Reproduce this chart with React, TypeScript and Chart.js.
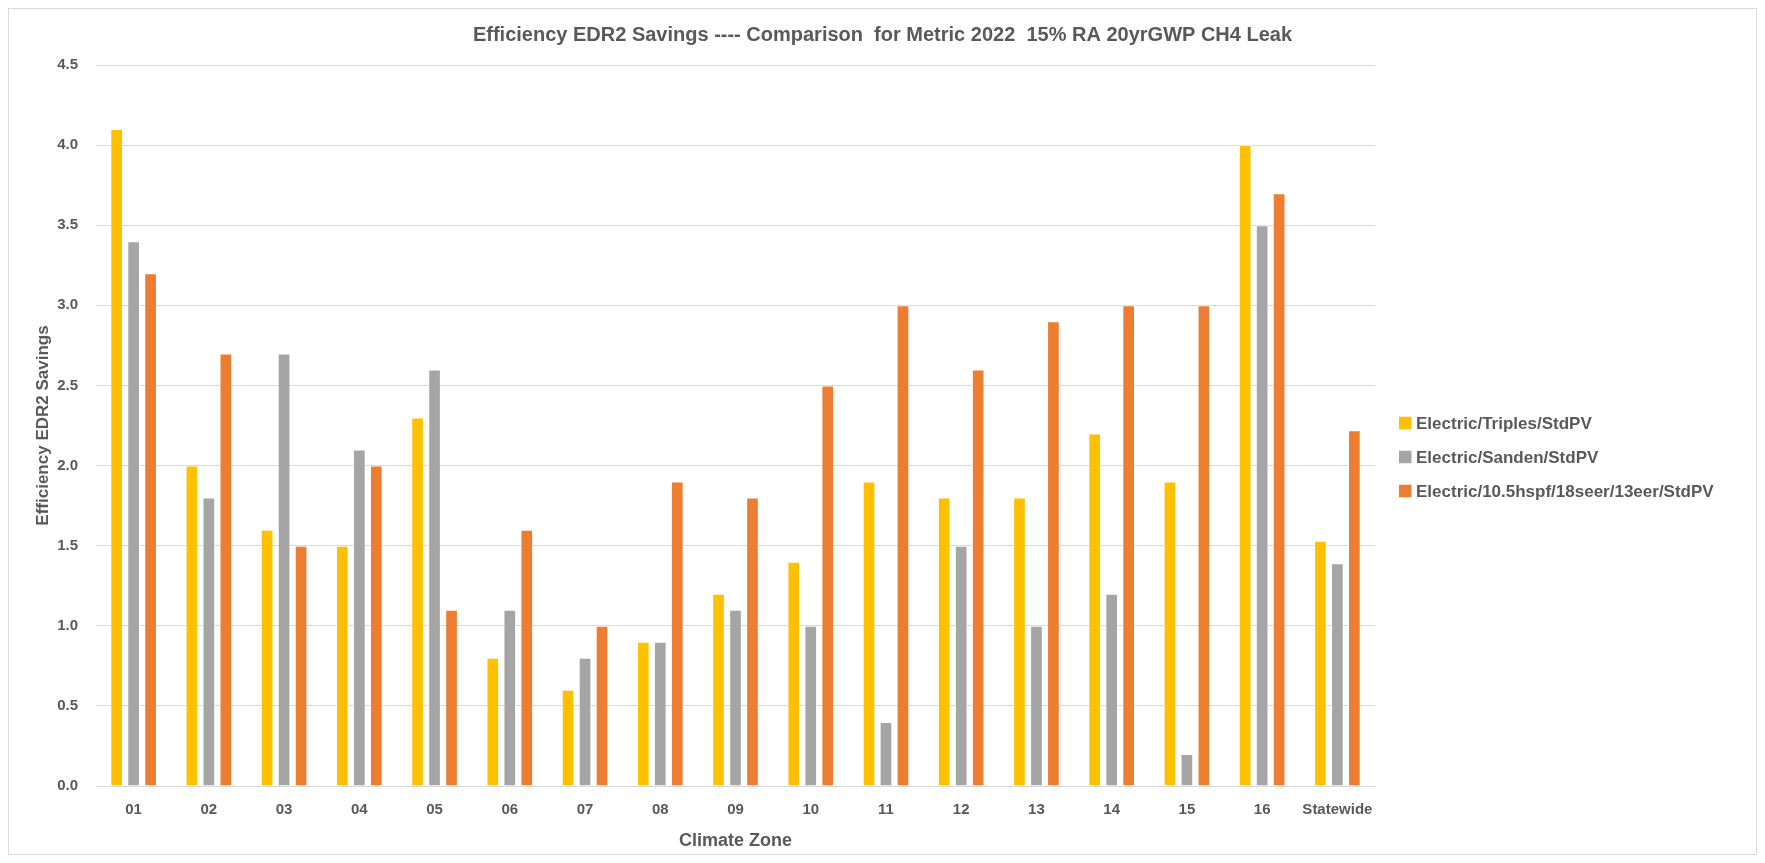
import React, { useEffect, useRef } from "react";
import { Chart, registerables } from "chart.js";

Chart.register(...registerables);

const categories = ["01", "02", "03", "04", "05", "06", "07", "08", "09", "10", "11", "12", "13", "14", "15", "16", "Statewide"];
const triplesStdPV = [4.1, 2.0, 1.6, 1.5, 2.3, 0.8, 0.6, 0.9, 1.2, 1.4, 1.9, 1.8, 1.8, 2.2, 1.9, 4.0, 1.53];
const sandenStdPV = [3.4, 1.8, 2.7, 2.1, 2.6, 1.1, 0.8, 0.9, 1.1, 1.0, 0.4, 1.5, 1.0, 1.2, 0.2, 3.5, 1.39];
const hspfStdPV = [3.2, 2.7, 1.5, 2.0, 1.1, 1.6, 1.0, 1.9, 1.8, 2.5, 3.0, 2.6, 2.9, 3.0, 3.0, 3.7, 2.22];
const seriesNames = ["Electric/Triples/StdPV", "Electric/Sanden/StdPV", "Electric/10.5hspf/18seer/13eer/StdPV"];
const seriesColors = ["#FFC000", "#A5A5A5", "#ED7D31"];
const chartTitle = "Efficiency EDR2 Savings ---- Comparison  for Metric 2022  15% RA 20yrGWP CH4 Leak";
const yAxisTitle = "Efficiency EDR2 Savings";
const xAxisTitle = "Climate Zone";
const yMin = 0;
const yMax = 4.5;
const yStep = 0.5;

const TEXT = "#595959";
const GRID = "#D9D9D9";
const FONT = "'Liberation Sans', Arial, sans-serif";

const customLegend = {
  id: "customLegend",
  afterDraw(chart: any) {
    const { ctx, chartArea } = chart;
    const x0 = chartArea.right + 24;
    const midY = (chartArea.top + chartArea.bottom) / 2 + 31.5;
    const rowGap = 34;
    const box = 12.5;
    ctx.save();
    ctx.font = `bold 17px ${FONT}`;
    ctx.textBaseline = "middle";
    ctx.textAlign = "left";
    seriesNames.forEach((name, i) => {
      const y = midY + (i - 1) * rowGap;
      ctx.fillStyle = seriesColors[i];
      ctx.fillRect(x0, y - box / 2, box, box);
      ctx.fillStyle = TEXT;
      ctx.fillText(name, x0 + 17, y + 1);
    });
    ctx.restore();
  },
};

export default function App() {
  const canvasRef = useRef<HTMLCanvasElement | null>(null);

  useEffect(() => {
    if (!canvasRef.current) return;
    const series = [triplesStdPV, sandenStdPV, hspfStdPV];
    const chart = new Chart(canvasRef.current, {
      type: "bar",
      data: {
        labels: categories,
        datasets: series.map((d, i) => ({
          label: seriesNames[i],
          data: d,
          backgroundColor: seriesColors[i],
          borderColor: "rgba(255,255,255,0.45)",
          borderWidth: 1,
          categoryPercentage: 0.677,
          barPercentage: 0.747,
          yAxisID: "y",
        })),
      },
      options: {
        responsive: false,
        animation: false,
        devicePixelRatio: 1,
        layout: { padding: 0 },
        plugins: {
          legend: { display: false },
          tooltip: { enabled: false },
          title: {
            display: true,
            text: chartTitle,
            color: TEXT,
            font: { family: FONT, size: 20, weight: "bold" },
            padding: { top: 14, bottom: 18 },
          },
        },
        scales: {
          x: {
            grid: { display: false, drawTicks: false },
            border: { display: true, color: GRID, width: 1 },
            ticks: {
              color: TEXT,
              font: { family: FONT, size: 15, weight: "bold" },
              padding: 15,
              maxRotation: 0,
              autoSkip: false,
            },
            title: {
              display: true,
              text: xAxisTitle,
              color: TEXT,
              font: { family: FONT, size: 18, weight: "bold" },
              padding: { top: 4, bottom: 2 },
            },
            afterFit: (s: any) => {
              s.height = 68;
            },
          },
          y: {
            position: "left",
            min: yMin,
            max: yMax,
            grid: { color: GRID, lineWidth: 1, drawTicks: false },
            border: { display: false },
            ticks: {
              stepSize: yStep,
              color: TEXT,
              font: { family: FONT, size: 15, weight: "bold" },
              padding: 18,
              callback: (v: any) => Number(v).toFixed(1),
            },
            title: {
              display: true,
              text: yAxisTitle,
              color: TEXT,
              font: { family: FONT, size: 17, weight: "bold" },
              padding: { top: 24, bottom: 0 },
            },
            afterFit: (s: any) => {
              s.width = 87;
            },
          },
          legendSpace: {
            type: "linear",
            position: "right",
            display: true,
            grid: { display: false, drawTicks: false },
            border: { display: false },
            ticks: { display: false },
            afterFit: (s: any) => {
              s.width = 381;
            },
          },
        },
      },
      plugins: [customLegend],
    });
    return () => chart.destroy();
  }, []);

  return (
    <div
      style={{
        width: 1749,
        height: 847,
        border: "1px solid #D9D9D9",
        boxSizing: "border-box",
        background: "#FFFFFF",
      }}
    >
      <canvas ref={canvasRef} width={1747} height={845} style={{ display: "block", width: 1747, height: 845 }} />
    </div>
  );
}
